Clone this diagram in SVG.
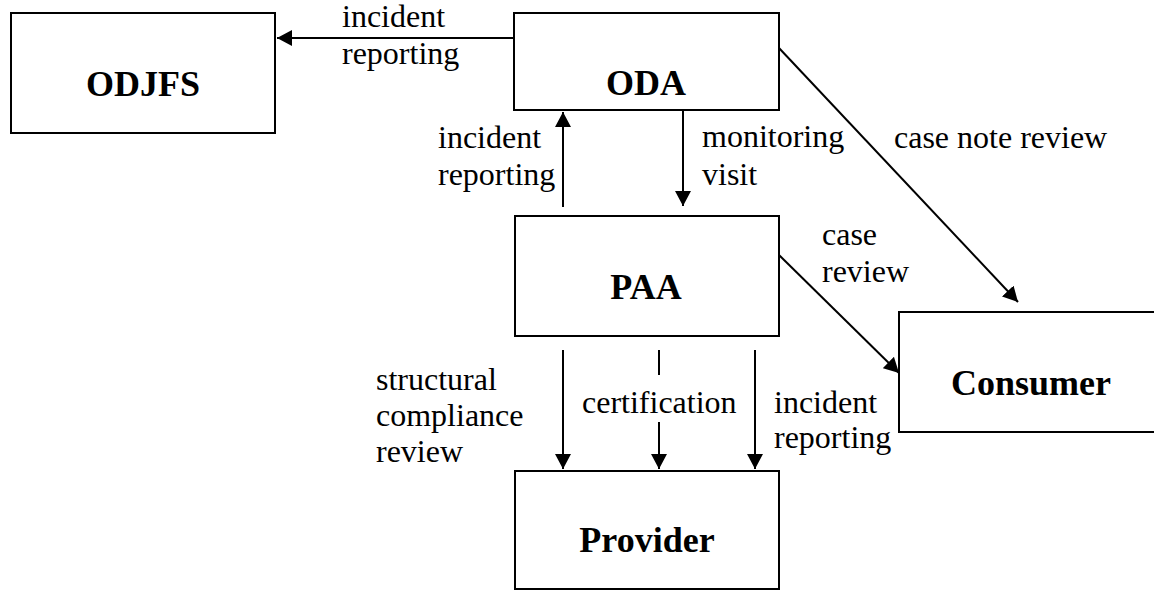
<svg xmlns="http://www.w3.org/2000/svg" width="1154" height="590" viewBox="0 0 1154 590">
<style>
.box{fill:#fff;stroke:#000;stroke-width:2}
.title{font-size:36px;font-weight:bold;text-anchor:middle;fill:#000}
.lbl{font-size:32px;fill:#000}
.con{fill:none;stroke:#000;stroke-width:2}
</style>
<defs>
<marker id="ah" markerUnits="userSpaceOnUse" markerWidth="16" markerHeight="16" refX="15" refY="8" orient="auto">
<path d="M0,0 L15,8 L0,16 z" fill="#000"/>
</marker>
</defs>
<rect width="1154" height="590" fill="#fff"/>
<g font-family="Liberation Serif, Times New Roman, Times, serif">
<g id="ODJFS"><rect class="box" x="11" y="13" width="264" height="120"/><text class="title" x="143" y="96">ODJFS</text></g>
<g id="ODA"><rect class="box" x="514" y="13" width="265" height="97"/><text class="title" x="646" y="95">ODA</text></g>
<g id="PAA"><rect class="box" x="515" y="216" width="264" height="120"/><text class="title" x="646" y="299">PAA</text></g>
<g id="Consumer"><rect class="box" x="899" y="312" width="270" height="120"/><text class="title" x="1031" y="395">Consumer</text></g>
<g id="Provider"><rect class="box" x="515" y="471" width="264" height="118"/><text class="title" x="647" y="552">Provider</text></g>
<g id="connectors">
<line class="con" x1="514" y1="38" x2="277" y2="38" marker-end="url(#ah)"/>
<line class="con" x1="563" y1="207" x2="563" y2="112" marker-end="url(#ah)"/>
<line class="con" x1="683" y1="110" x2="683" y2="206" marker-end="url(#ah)"/>
<line class="con" x1="779" y1="48" x2="1018" y2="302" marker-end="url(#ah)"/>
<line class="con" x1="779" y1="255" x2="899" y2="373" marker-end="url(#ah)"/>
<line class="con" x1="563" y1="350" x2="563" y2="469" marker-end="url(#ah)"/>
<line class="con" x1="659" y1="350" x2="659" y2="375"/>
<line class="con" x1="659" y1="422" x2="659" y2="469" marker-end="url(#ah)"/>
<line class="con" x1="755" y1="350" x2="755" y2="469" marker-end="url(#ah)"/>
</g>
<g id="labels">
<text class="lbl" x="342" y="27">incident</text>
<text class="lbl" x="342" y="64">reporting</text>
<text class="lbl" x="438" y="148">incident</text>
<text class="lbl" x="438" y="185">reporting</text>
<text class="lbl" x="702" y="147">monitoring</text>
<text class="lbl" x="702" y="185">visit</text>
<text class="lbl" x="894" y="148">case note review</text>
<text class="lbl" x="822" y="245">case</text>
<text class="lbl" x="822" y="282">review</text>
<text class="lbl" x="376" y="390">structural</text>
<text class="lbl" x="376" y="426">compliance</text>
<text class="lbl" x="376" y="462">review</text>
<text class="lbl" x="582" y="413">certification</text>
<text class="lbl" x="774" y="413">incident</text>
<text class="lbl" x="774" y="448">reporting</text>
</g>
</g>
</svg>
